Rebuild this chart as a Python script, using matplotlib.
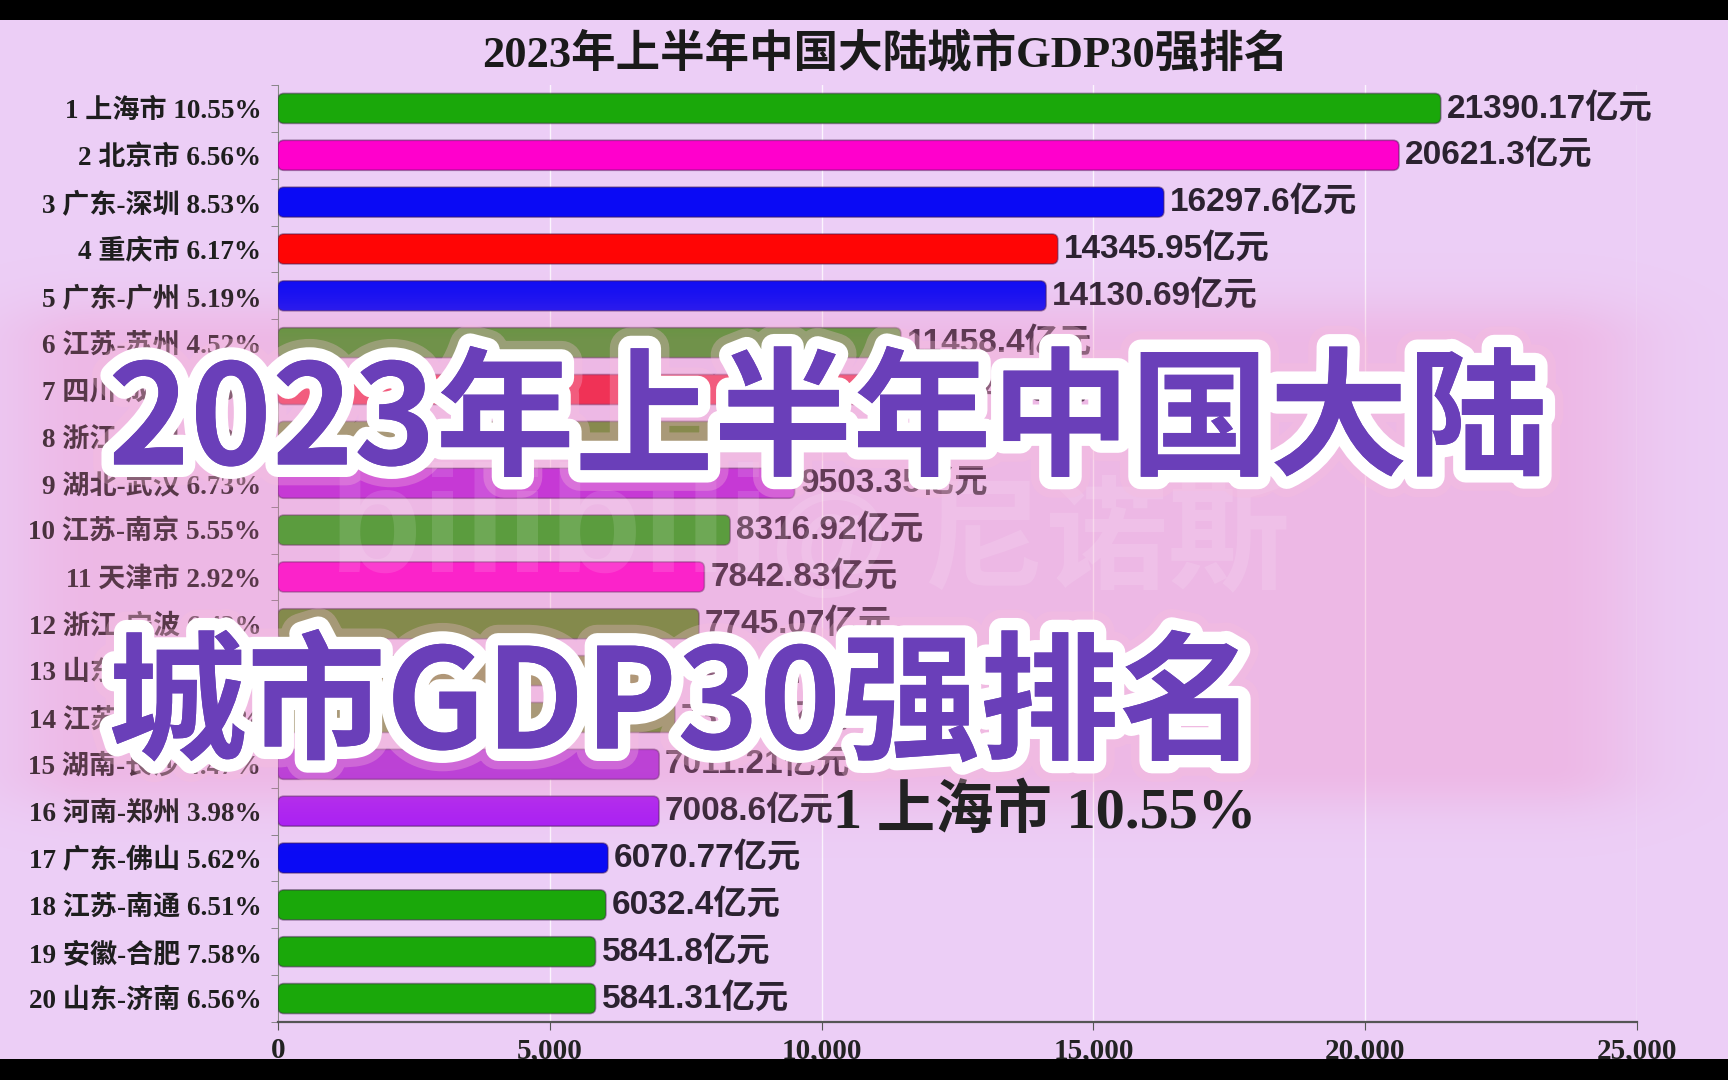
import numpy as np
import matplotlib
matplotlib.use("Agg")
import matplotlib.pyplot as plt
from matplotlib.patches import FancyBboxPatch, Rectangle, BoxStyle
import matplotlib.patheffects as pe

# data (rows 7, 8, 13, 14 are partly hidden -> estimated)
ranks = list(range(1, 21))
cities = ["上海市", "北京市", "广东-深圳", "重庆市", "广东-广州",
          "江苏-苏州", "四川-成都", "浙江-杭州", "湖北-武汉", "江苏-南京",
          "天津市", "浙江-宁波", "山东-青岛", "江苏-无锡", "湖南-长沙",
          "河南-郑州", "广东-佛山", "江苏-南通", "安徽-合肥", "山东-济南"]
growth = ["10.55", "6.56", "8.53", "6.17", "5.19",
          "4.52", "7.15", "5.63", "6.73", "5.55",
          "2.92", "6.43", "4.62", "5.32", "4.47",
          "3.98", "5.62", "6.51", "7.58", "6.56"]
gdp = [21390.17, 20621.3, 16297.6, 14345.95, 14130.69,
       11458.4, 11035.49, 9643.06, 9503.35, 8316.92,
       7842.83, 7745.07, 7440.3, 7302.9, 7011.21,
       7008.6, 6070.77, 6032.4, 5841.8, 5841.31]
colors = ["#1aa80a", "#ff00cc", "#0a0af5", "#ff0505", "#0a0af5",
          "#3f9a1f", "#f01530", "#5f8f23", "#b61fe0", "#22a80e",
          "#ff00d0", "#5a8f22", "#6d8a25", "#5f8f23", "#a82be0",
          "#a81ef5", "#0a0af5", "#1aa80a", "#1aa80a", "#1aa80a"]
xticks = [0, 5000, 10000, 15000, 20000, 25000]

title = "2023年上半年中国大陆城市GDP30强排名"
cover_1 = "2023年上半年中国大陆"
cover_2 = "城市GDP30强排名"
frame_label = "1 上海市 10.55%"

W, H = 1728, 1080
bg = "#eccef6"
serif = ["Liberation Serif", "Noto Sans CJK SC"]
sans = ["Liberation Sans", "Noto Sans CJK SC"]

fig = plt.figure(figsize=(W / 100, H / 100), dpi=100, facecolor=bg)
ax = fig.add_axes([278 / W, 1 - 1022 / H, (1637 - 278) / W, (1022 - 85) / H])
ax.set_facecolor(bg)

y = np.arange(len(gdp))
bars = ax.barh(y, gdp, height=0.64, color=colors, zorder=3)

# swap the plain rectangles for rounded ones
rx = 110
asp = (6 / 46.84) / rx
for b, c in zip(bars, colors):
    x0, y0, w, h = b.get_x(), b.get_y(), b.get_width(), b.get_height()
    p = FancyBboxPatch((x0, y0), w, h,
                       boxstyle=BoxStyle.Round(pad=0, rounding_size=rx),
                       mutation_aspect=asp, facecolor=c,
                       edgecolor=(0.25, 0.1, 0.3, 0.45), linewidth=1.2, zorder=3)
    ax.add_patch(p)
    b.remove()

for i, v in enumerate(gdp):
    ax.text(v + 110, i, f"{v}亿元", va="center", ha="left", fontsize=24,
            family=sans, weight="bold", color="#2b2230", zorder=4)

ax.set_xlim(0, 25000)
ax.set_ylim(len(gdp) - 0.5, -0.5)
ax.set_xticks(xticks)
ax.set_xticklabels([f"{t:,}" for t in xticks], family=serif, weight="bold",
                   fontsize=21, color="#222222")
ax.set_yticks(y)
ax.set_yticklabels([f"{r} {c} {g}%" for r, c, g in zip(ranks, cities, growth)],
                   family=serif, weight="bold", fontsize=19.5, color="#1e1e1e")
ax.set_yticks(np.arange(len(gdp) + 1) - 0.5, minor=True)
ax.tick_params(axis="y", which="major", length=0, pad=12)
ax.tick_params(axis="y", which="minor", length=5, color="#777777")
ax.tick_params(axis="x", length=6, color="#555555", pad=5)
ax.grid(axis="x", color="white", linewidth=1, alpha=0.8, zorder=0)
for s in ["top", "right"]:
    ax.spines[s].set_visible(False)
ax.spines["left"].set_color("#888888")
ax.spines["bottom"].set_color("#555555")
ax.spines["bottom"].set_linewidth(1.6)

fig.text(885 / W, 1 - 55 / H, title, ha="center", va="center", fontsize=32,
         family=serif, weight="bold", color="#1a1a1a")

# faint watermark
fig.text(329 / W, 1 - 533 / H, "bilibili", ha="left", va="center", fontsize=110,
         family=sans, weight="bold", color="white", alpha=0.12, zorder=2)
fig.text(770 / W, 1 - 542 / H, "@ 尼诺斯", ha="left", va="center", fontsize=88,
         family=sans, weight="bold", color="white", alpha=0.12, zorder=2)

# pink glow behind the cover text
gx, gy = np.meshgrid(np.arange(W), np.arange(H))
dx = np.maximum(np.maximum(100 - gx, gx - 1545), 0)
dy = np.maximum(np.maximum(345 - gy, gy - 765), 0)
d = np.hypot(dx / 100, dy / 45)
glow = np.zeros((H, W, 4))
glow[..., 0] = 0.95
glow[..., 1] = 0.50
glow[..., 2] = 0.74
glow[..., 3] = 0.28 * np.exp(-d ** 2)
gax = fig.add_axes([0, 0, 1, 1], zorder=1)
gax.imshow(glow, extent=(0, W, H, 0), aspect="auto")
gax.set_xlim(0, W)
gax.set_ylim(H, 0)
gax.axis("off")
gax.patch.set_alpha(0)

fig.text(1256 / W, 1 - 812 / H, frame_label, ha="right", va="center", fontsize=42,
         family=serif, weight="bold", color="#222222", zorder=3)

fx = [pe.withStroke(linewidth=30, foreground="#f8bfdc", alpha=0.3),
      pe.withStroke(linewidth=18, foreground="white"), pe.Normal()]
for txt, yc in [(cover_1, 424), (cover_2, 708)]:
    fig.text(108 / W, 1 - yc / H, txt, ha="left", va="center", fontsize=100,
             family=["Noto Sans CJK SC"], weight="black", color="#6a3fb9",
             path_effects=fx, zorder=5)

# black letterbox bands
fig.patches.append(Rectangle((0, 1 - 20 / H), 1, 20 / H, transform=fig.transFigure,
                             facecolor="black", zorder=10))
fig.patches.append(Rectangle((0, 0), 1, 21 / H, transform=fig.transFigure,
                             facecolor="black", zorder=10))

fig.savefig("out.png", dpi=100, facecolor=bg)
